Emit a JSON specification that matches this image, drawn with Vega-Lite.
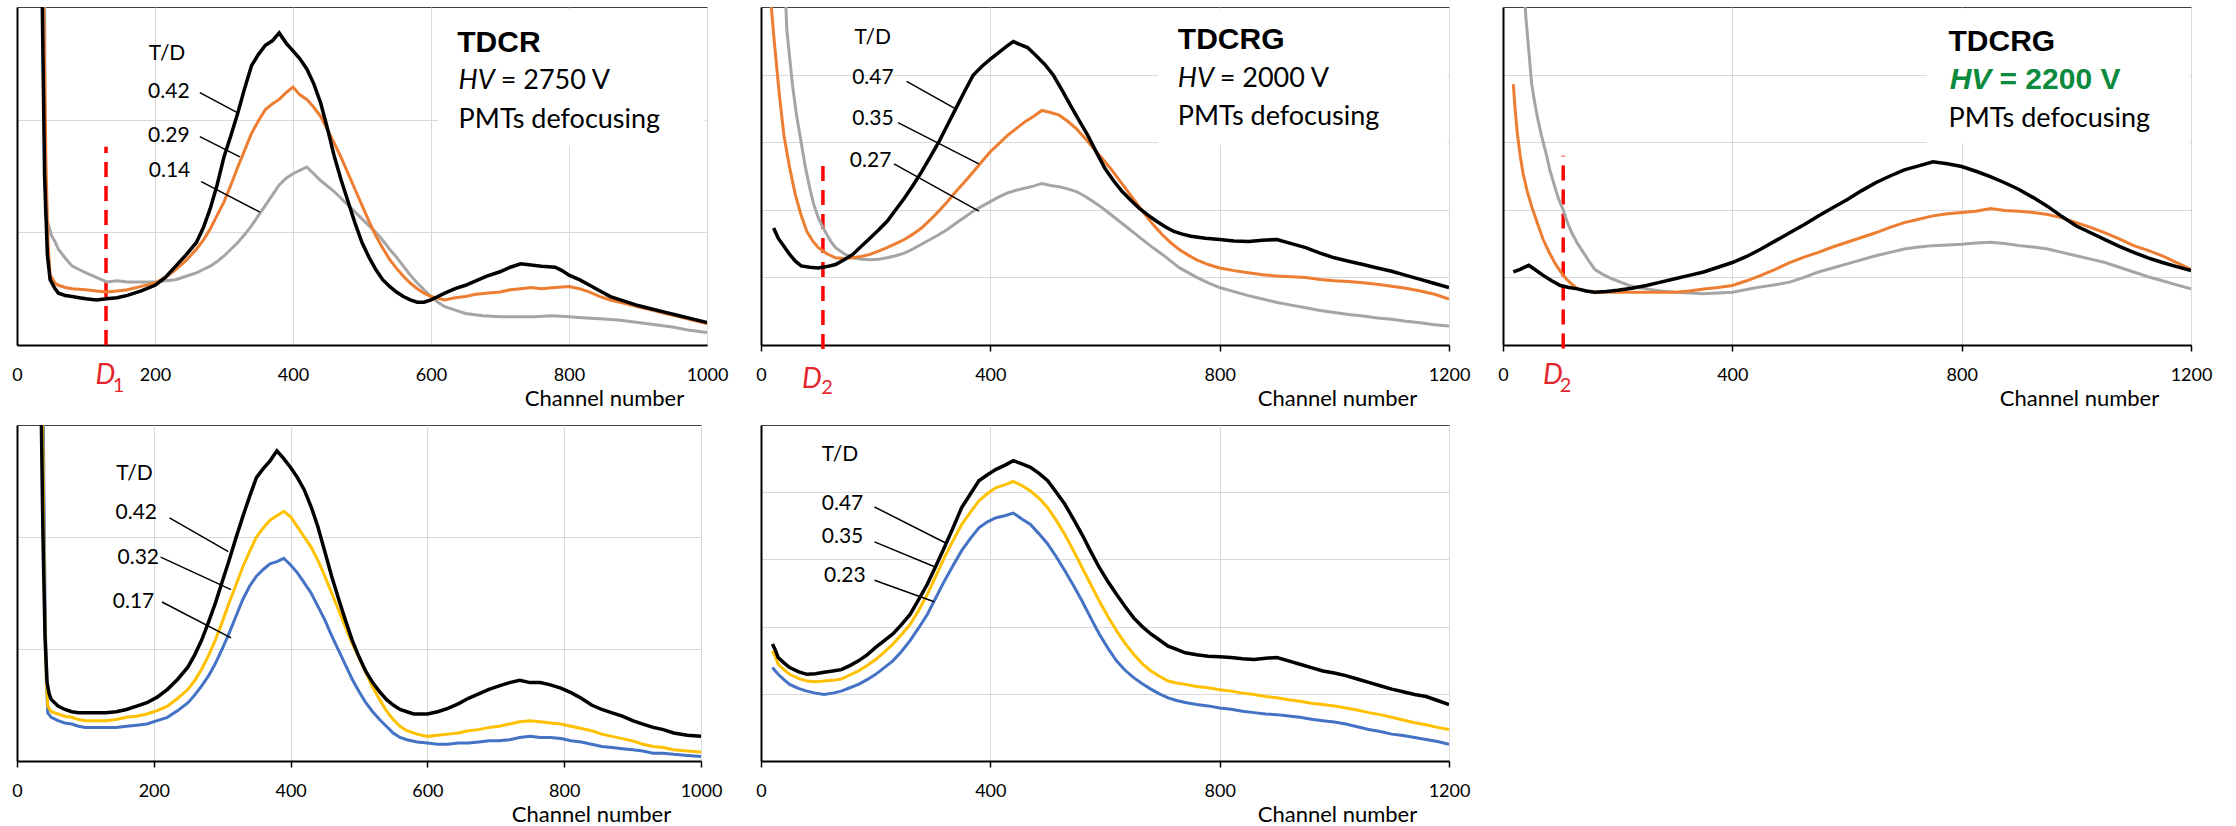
{
"$schema":"https://vega.github.io/schema/vega-lite/v6.json",
"background":"white",
"padding":{"left":11,"top":6,"right":5,"bottom":5},
"bounds":"flush",
"columns":3,
"spacing":{"row":80,"column":54},
"config":{
 "view":{"stroke":"#404040","strokeWidth":1},
 "font":"Lato",
 "axisX":{"grid":true,"gridColor":"#D9D9D9","gridWidth":1,"domainColor":"#000","domainWidth":2,"tickColor":"#000","tickSize":6,"tickWidth":1.5,"labelFont":"Lato","labelFontSize":18,"labelColor":"#000","labelPadding":15,"labelFlush":false,"labelOverlap":false,"format":"d","titleFont":"Lato","titleFontSize":22,"titleFontWeight":"normal","titleColor":"#000","titleBaseline":"alphabetic","titleY":60,"titleX":576},
 "axisY":{"grid":true,"gridColor":"#D9D9D9","gridWidth":1,"domainColor":"#000","domainWidth":2,"labels":false,"ticks":false}
},
"datasets":{
"a1":[{"x":36,"y":330},{"x":40,"y":150},{"x":44,"y":80},{"x":48,"y":58},{"x":55,"y":50},{"x":60,"y":46},{"x":70,"y":44},{"x":80,"y":43},{"x":90,"y":42},{"x":100,"y":41},{"x":115,"y":40},{"x":130,"y":41},{"x":145,"y":42},{"x":160,"y":44},{"x":180,"y":48},{"x":200,"y":53},{"x":215,"y":60},{"x":230,"y":70},{"x":245,"y":80},{"x":260,"y":91},{"x":270,"y":104},{"x":280,"y":121},{"x":290,"y":142},{"x":300,"y":167},{"x":310,"y":186},{"x":320,"y":206},{"x":330,"y":228},{"x":340,"y":248},{"x":350,"y":258},{"x":360,"y":266},{"x":370,"y":270},{"x":380,"y":277},{"x":390,"y":268},{"x":400,"y":261},{"x":410,"y":254},{"x":420,"y":245},{"x":430,"y":232},{"x":440,"y":215},{"x":450,"y":192},{"x":460,"y":167},{"x":470,"y":146},{"x":480,"y":127},{"x":490,"y":108},{"x":500,"y":91},{"x":510,"y":78},{"x":520,"y":67},{"x":530,"y":58},{"x":540,"y":52},{"x":550,"y":47},{"x":560,"y":43},{"x":570,"y":40},{"x":580,"y":38},{"x":590,"y":38},{"x":600,"y":40},{"x":610,"y":43},{"x":620,"y":46},{"x":635,"y":50},{"x":650,"y":53},{"x":665,"y":57},{"x":680,"y":61},{"x":700,"y":65},{"x":715,"y":69},{"x":730,"y":72},{"x":745,"y":71},{"x":760,"y":70},{"x":780,"y":69},{"x":790,"y":66},{"x":800,"y":62},{"x":815,"y":58},{"x":830,"y":53},{"x":845,"y":48},{"x":860,"y":43},{"x":880,"y":39},{"x":900,"y":35},{"x":920,"y":32},{"x":940,"y":29},{"x":960,"y":26},{"x":980,"y":23},{"x":1000,"y":20}],
"b1":[{"x":38,"y":330},{"x":42,"y":160},{"x":45,"y":90},{"x":48,"y":62},{"x":55,"y":55},{"x":60,"y":53},{"x":70,"y":51},{"x":80,"y":50},{"x":100,"y":49},{"x":115,"y":48},{"x":130,"y":47},{"x":145,"y":48},{"x":160,"y":49},{"x":180,"y":52},{"x":200,"y":55},{"x":215,"y":60},{"x":230,"y":67},{"x":245,"y":75},{"x":260,"y":85},{"x":270,"y":93},{"x":280,"y":103},{"x":290,"y":115},{"x":300,"y":127},{"x":310,"y":142},{"x":320,"y":158},{"x":330,"y":173},{"x":340,"y":188},{"x":350,"y":199},{"x":360,"y":209},{"x":370,"y":214},{"x":380,"y":218},{"x":390,"y":224},{"x":400,"y":229},{"x":410,"y":222},{"x":420,"y":218},{"x":430,"y":211},{"x":440,"y":203},{"x":450,"y":191},{"x":460,"y":179},{"x":470,"y":166},{"x":480,"y":152},{"x":490,"y":138},{"x":500,"y":124},{"x":510,"y":110},{"x":520,"y":97},{"x":530,"y":86},{"x":540,"y":76},{"x":550,"y":68},{"x":560,"y":61},{"x":570,"y":55},{"x":580,"y":50},{"x":590,"y":46},{"x":600,"y":43},{"x":620,"y":40},{"x":635,"y":42},{"x":650,"y":43},{"x":665,"y":45},{"x":680,"y":46},{"x":700,"y":47},{"x":715,"y":49},{"x":730,"y":50},{"x":745,"y":51},{"x":760,"y":50},{"x":780,"y":51},{"x":800,"y":52},{"x":815,"y":50},{"x":830,"y":47},{"x":845,"y":43},{"x":860,"y":40},{"x":880,"y":37},{"x":900,"y":34},{"x":920,"y":31},{"x":940,"y":28},{"x":960,"y":25},{"x":980,"y":22},{"x":1000,"y":19}],
"c1":[{"x":40,"y":330},{"x":41,"y":115},{"x":45,"y":108},{"x":50,"y":97},{"x":55,"y":92},{"x":60,"y":85},{"x":70,"y":77},{"x":80,"y":70},{"x":90,"y":67},{"x":100,"y":64},{"x":115,"y":60},{"x":130,"y":56},{"x":145,"y":57},{"x":160,"y":56},{"x":180,"y":56},{"x":200,"y":56},{"x":215,"y":57},{"x":230,"y":58},{"x":245,"y":61},{"x":260,"y":64},{"x":270,"y":67},{"x":280,"y":70},{"x":290,"y":74},{"x":300,"y":79},{"x":310,"y":85},{"x":320,"y":91},{"x":330,"y":98},{"x":340,"y":106},{"x":350,"y":115},{"x":360,"y":124},{"x":370,"y":133},{"x":380,"y":142},{"x":390,"y":148},{"x":400,"y":152},{"x":410,"y":155},{"x":420,"y":158},{"x":430,"y":152},{"x":440,"y":146},{"x":450,"y":141},{"x":460,"y":136},{"x":470,"y":130},{"x":480,"y":124},{"x":490,"y":118},{"x":500,"y":112},{"x":510,"y":106},{"x":520,"y":100},{"x":530,"y":93},{"x":540,"y":85},{"x":550,"y":78},{"x":560,"y":70},{"x":570,"y":62},{"x":580,"y":55},{"x":590,"y":49},{"x":600,"y":43},{"x":610,"y":38},{"x":620,"y":34},{"x":635,"y":31},{"x":650,"y":28},{"x":675,"y":26},{"x":700,"y":25},{"x":725,"y":25},{"x":750,"y":25},{"x":775,"y":26},{"x":800,"y":25},{"x":825,"y":24},{"x":850,"y":23},{"x":875,"y":22},{"x":900,"y":20},{"x":925,"y":18},{"x":950,"y":16},{"x":975,"y":13},{"x":1000,"y":11}],
"a2":[{"x":22,"y":173},{"x":30,"y":158},{"x":40,"y":146},{"x":50,"y":134},{"x":60,"y":124},{"x":70,"y":117},{"x":85,"y":115},{"x":100,"y":114},{"x":115,"y":116},{"x":130,"y":119},{"x":145,"y":126},{"x":160,"y":134},{"x":175,"y":146},{"x":190,"y":158},{"x":205,"y":170},{"x":220,"y":183},{"x":235,"y":200},{"x":250,"y":217},{"x":265,"y":236},{"x":280,"y":256},{"x":295,"y":278},{"x":310,"y":300},{"x":325,"y":325},{"x":340,"y":350},{"x":355,"y":375},{"x":370,"y":399},{"x":385,"y":412},{"x":400,"y":423},{"x":415,"y":433},{"x":430,"y":443},{"x":440,"y":449},{"x":450,"y":445},{"x":465,"y":440},{"x":480,"y":428},{"x":495,"y":415},{"x":510,"y":399},{"x":525,"y":377},{"x":540,"y":354},{"x":555,"y":332},{"x":570,"y":310},{"x":585,"y":285},{"x":600,"y":261},{"x":615,"y":243},{"x":630,"y":227},{"x":645,"y":214},{"x":660,"y":202},{"x":675,"y":192},{"x":690,"y":183},{"x":705,"y":175},{"x":720,"y":168},{"x":735,"y":164},{"x":750,"y":161},{"x":775,"y":158},{"x":800,"y":156},{"x":825,"y":154},{"x":850,"y":153},{"x":875,"y":155},{"x":900,"y":156},{"x":925,"y":150},{"x":950,"y":144},{"x":975,"y":136},{"x":1000,"y":129},{"x":1025,"y":124},{"x":1050,"y":119},{"x":1075,"y":114},{"x":1100,"y":109},{"x":1125,"y":103},{"x":1150,"y":97},{"x":1175,"y":91},{"x":1200,"y":85}],
"b2":[{"x":18,"y":500},{"x":22,"y":460},{"x":25,"y":433},{"x":32,"y":370},{"x":40,"y":310},{"x":50,"y":262},{"x":60,"y":222},{"x":70,"y":192},{"x":80,"y":168},{"x":90,"y":154},{"x":100,"y":144},{"x":115,"y":135},{"x":130,"y":129},{"x":145,"y":128},{"x":160,"y":129},{"x":175,"y":131},{"x":190,"y":134},{"x":205,"y":139},{"x":220,"y":144},{"x":235,"y":150},{"x":250,"y":156},{"x":265,"y":164},{"x":280,"y":173},{"x":295,"y":185},{"x":310,"y":198},{"x":325,"y":212},{"x":340,"y":227},{"x":355,"y":241},{"x":370,"y":256},{"x":385,"y":271},{"x":400,"y":286},{"x":415,"y":298},{"x":430,"y":310},{"x":445,"y":320},{"x":460,"y":330},{"x":475,"y":338},{"x":490,"y":347},{"x":505,"y":344},{"x":520,"y":340},{"x":535,"y":331},{"x":550,"y":320},{"x":565,"y":306},{"x":580,"y":291},{"x":595,"y":276},{"x":610,"y":261},{"x":625,"y":244},{"x":640,"y":227},{"x":655,"y":210},{"x":670,"y":193},{"x":685,"y":177},{"x":700,"y":163},{"x":715,"y":151},{"x":730,"y":141},{"x":745,"y":133},{"x":760,"y":126},{"x":780,"y":119},{"x":800,"y":114},{"x":825,"y":110},{"x":850,"y":107},{"x":875,"y":104},{"x":900,"y":102},{"x":925,"y":101},{"x":950,"y":100},{"x":975,"y":97},{"x":1000,"y":95},{"x":1025,"y":94},{"x":1050,"y":92},{"x":1075,"y":90},{"x":1100,"y":87},{"x":1125,"y":84},{"x":1150,"y":80},{"x":1175,"y":75},{"x":1200,"y":68}],
"c2":[{"x":43,"y":510},{"x":45,"y":467},{"x":50,"y":425},{"x":55,"y":384},{"x":62,"y":340},{"x":70,"y":300},{"x":77,"y":265},{"x":85,"y":232},{"x":92,"y":208},{"x":100,"y":188},{"x":108,"y":174},{"x":115,"y":163},{"x":122,"y":153},{"x":130,"y":144},{"x":145,"y":135},{"x":160,"y":129},{"x":175,"y":127},{"x":190,"y":126},{"x":205,"y":127},{"x":220,"y":129},{"x":235,"y":132},{"x":250,"y":136},{"x":265,"y":142},{"x":280,"y":149},{"x":295,"y":156},{"x":310,"y":163},{"x":325,"y":171},{"x":340,"y":180},{"x":355,"y":189},{"x":370,"y":198},{"x":385,"y":205},{"x":400,"y":212},{"x":415,"y":219},{"x":430,"y":225},{"x":445,"y":229},{"x":460,"y":232},{"x":475,"y":235},{"x":490,"y":239},{"x":505,"y":236},{"x":520,"y":234},{"x":535,"y":231},{"x":550,"y":227},{"x":565,"y":220},{"x":580,"y":212},{"x":595,"y":203},{"x":610,"y":193},{"x":625,"y":183},{"x":640,"y":173},{"x":655,"y":163},{"x":670,"y":153},{"x":685,"y":143},{"x":700,"y":134},{"x":715,"y":124},{"x":730,"y":114},{"x":745,"y":107},{"x":760,"y":100},{"x":780,"y":92},{"x":800,"y":85},{"x":825,"y":79},{"x":850,"y":73},{"x":875,"y":68},{"x":900,"y":63},{"x":925,"y":59},{"x":950,"y":55},{"x":975,"y":51},{"x":1000,"y":48},{"x":1025,"y":45},{"x":1050,"y":43},{"x":1075,"y":40},{"x":1100,"y":38},{"x":1125,"y":35},{"x":1150,"y":33},{"x":1175,"y":30},{"x":1200,"y":28}],
"a3":[{"x":18,"y":108},{"x":30,"y":112},{"x":45,"y":118},{"x":55,"y":112},{"x":70,"y":103},{"x":85,"y":95},{"x":100,"y":88},{"x":115,"y":85},{"x":130,"y":83},{"x":145,"y":80},{"x":160,"y":78},{"x":180,"y":79},{"x":200,"y":81},{"x":225,"y":84},{"x":250,"y":88},{"x":275,"y":93},{"x":300,"y":98},{"x":325,"y":103},{"x":350,"y":108},{"x":375,"y":115},{"x":400,"y":122},{"x":425,"y":131},{"x":450,"y":142},{"x":475,"y":154},{"x":500,"y":166},{"x":525,"y":178},{"x":550,"y":191},{"x":575,"y":203},{"x":600,"y":215},{"x":625,"y":228},{"x":650,"y":240},{"x":675,"y":250},{"x":700,"y":259},{"x":725,"y":265},{"x":750,"y":271},{"x":775,"y":268},{"x":800,"y":264},{"x":825,"y":257},{"x":850,"y":249},{"x":875,"y":240},{"x":900,"y":230},{"x":925,"y":218},{"x":950,"y":205},{"x":975,"y":190},{"x":1000,"y":176},{"x":1025,"y":166},{"x":1050,"y":156},{"x":1075,"y":146},{"x":1100,"y":137},{"x":1125,"y":129},{"x":1150,"y":122},{"x":1175,"y":116},{"x":1200,"y":110}],
"b3":[{"x":18,"y":386},{"x":21,"y":350},{"x":25,"y":313},{"x":30,"y":280},{"x":35,"y":254},{"x":42,"y":228},{"x":50,"y":205},{"x":60,"y":180},{"x":70,"y":156},{"x":80,"y":138},{"x":90,"y":122},{"x":100,"y":109},{"x":110,"y":98},{"x":120,"y":90},{"x":130,"y":83},{"x":145,"y":80},{"x":160,"y":78},{"x":180,"y":78},{"x":200,"y":78},{"x":225,"y":78},{"x":250,"y":78},{"x":275,"y":78},{"x":300,"y":78},{"x":325,"y":80},{"x":350,"y":83},{"x":375,"y":85},{"x":400,"y":88},{"x":425,"y":95},{"x":450,"y":103},{"x":475,"y":112},{"x":500,"y":122},{"x":525,"y":130},{"x":550,"y":137},{"x":575,"y":145},{"x":600,"y":152},{"x":625,"y":159},{"x":650,"y":166},{"x":675,"y":174},{"x":700,"y":181},{"x":725,"y":186},{"x":750,"y":191},{"x":775,"y":194},{"x":800,"y":196},{"x":825,"y":198},{"x":850,"y":202},{"x":875,"y":199},{"x":900,"y":198},{"x":925,"y":196},{"x":950,"y":193},{"x":975,"y":188},{"x":1000,"y":181},{"x":1025,"y":174},{"x":1050,"y":166},{"x":1075,"y":157},{"x":1100,"y":147},{"x":1125,"y":140},{"x":1150,"y":132},{"x":1175,"y":122},{"x":1200,"y":112}],
"c3":[{"x":38,"y":510},{"x":40,"y":484},{"x":45,"y":435},{"x":50,"y":386},{"x":55,"y":360},{"x":60,"y":337},{"x":67,"y":310},{"x":75,"y":284},{"x":82,"y":258},{"x":90,"y":235},{"x":97,"y":216},{"x":105,"y":200},{"x":112,"y":182},{"x":120,"y":166},{"x":130,"y":150},{"x":140,"y":137},{"x":150,"y":124},{"x":160,"y":112},{"x":175,"y":104},{"x":190,"y":98},{"x":205,"y":93},{"x":220,"y":88},{"x":235,"y":85},{"x":250,"y":83},{"x":275,"y":80},{"x":300,"y":78},{"x":325,"y":77},{"x":350,"y":76},{"x":375,"y":77},{"x":400,"y":78},{"x":425,"y":82},{"x":450,"y":86},{"x":475,"y":89},{"x":500,"y":93},{"x":525,"y":100},{"x":550,"y":108},{"x":575,"y":114},{"x":600,"y":120},{"x":625,"y":126},{"x":650,"y":132},{"x":675,"y":137},{"x":700,"y":142},{"x":725,"y":145},{"x":750,"y":147},{"x":775,"y":148},{"x":800,"y":149},{"x":825,"y":151},{"x":850,"y":152},{"x":875,"y":150},{"x":900,"y":147},{"x":925,"y":145},{"x":950,"y":142},{"x":975,"y":137},{"x":1000,"y":132},{"x":1025,"y":127},{"x":1050,"y":122},{"x":1075,"y":115},{"x":1100,"y":108},{"x":1125,"y":101},{"x":1150,"y":95},{"x":1175,"y":89},{"x":1200,"y":83}],
"a4":[{"x":35,"y":330},{"x":38,"y":200},{"x":41,"y":110},{"x":44,"y":70},{"x":47,"y":60},{"x":50,"y":55},{"x":60,"y":49},{"x":70,"y":46},{"x":80,"y":44},{"x":90,"y":43},{"x":100,"y":43},{"x":115,"y":43},{"x":130,"y":43},{"x":145,"y":44},{"x":160,"y":46},{"x":175,"y":49},{"x":190,"y":52},{"x":205,"y":57},{"x":220,"y":64},{"x":235,"y":73},{"x":250,"y":84},{"x":260,"y":95},{"x":270,"y":108},{"x":280,"y":124},{"x":290,"y":141},{"x":300,"y":160},{"x":310,"y":179},{"x":320,"y":199},{"x":330,"y":218},{"x":340,"y":236},{"x":350,"y":253},{"x":360,"y":261},{"x":370,"y":268},{"x":380,"y":277},{"x":390,"y":270},{"x":400,"y":262},{"x":410,"y":253},{"x":420,"y":242},{"x":430,"y":227},{"x":440,"y":209},{"x":450,"y":187},{"x":460,"y":165},{"x":470,"y":145},{"x":480,"y":126},{"x":490,"y":108},{"x":500,"y":93},{"x":510,"y":80},{"x":520,"y":70},{"x":530,"y":62},{"x":540,"y":55},{"x":550,"y":50},{"x":560,"y":46},{"x":570,"y":44},{"x":580,"y":42},{"x":590,"y":42},{"x":600,"y":42},{"x":615,"y":44},{"x":630,"y":47},{"x":645,"y":51},{"x":660,"y":56},{"x":675,"y":60},{"x":690,"y":64},{"x":705,"y":67},{"x":720,"y":70},{"x":735,"y":72},{"x":750,"y":70},{"x":765,"y":70},{"x":780,"y":68},{"x":795,"y":65},{"x":810,"y":61},{"x":825,"y":56},{"x":840,"y":50},{"x":855,"y":46},{"x":870,"y":43},{"x":885,"y":40},{"x":900,"y":36},{"x":915,"y":33},{"x":930,"y":30},{"x":945,"y":28},{"x":960,"y":25},{"x":980,"y":23},{"x":1000,"y":22}],
"b4":[{"x":37,"y":330},{"x":40,"y":150},{"x":43,"y":70},{"x":45,"y":49},{"x":50,"y":44},{"x":60,"y":42},{"x":70,"y":40},{"x":80,"y":39},{"x":90,"y":37},{"x":100,"y":36},{"x":115,"y":36},{"x":130,"y":36},{"x":145,"y":37},{"x":160,"y":39},{"x":175,"y":40},{"x":190,"y":42},{"x":205,"y":45},{"x":220,"y":49},{"x":235,"y":56},{"x":250,"y":64},{"x":260,"y":72},{"x":270,"y":82},{"x":280,"y":94},{"x":290,"y":108},{"x":300,"y":124},{"x":310,"y":141},{"x":320,"y":157},{"x":330,"y":173},{"x":340,"y":187},{"x":350,"y":200},{"x":360,"y":208},{"x":370,"y":215},{"x":380,"y":219},{"x":390,"y":223},{"x":400,"y":218},{"x":410,"y":209},{"x":420,"y":200},{"x":430,"y":191},{"x":440,"y":179},{"x":450,"y":165},{"x":460,"y":150},{"x":470,"y":135},{"x":480,"y":120},{"x":490,"y":105},{"x":500,"y":92},{"x":510,"y":79},{"x":520,"y":66},{"x":530,"y":55},{"x":540,"y":45},{"x":550,"y":37},{"x":560,"y":31},{"x":570,"y":27},{"x":585,"y":24},{"x":600,"y":22},{"x":615,"y":23},{"x":630,"y":24},{"x":645,"y":25},{"x":660,"y":27},{"x":675,"y":28},{"x":690,"y":30},{"x":705,"y":31},{"x":720,"y":33},{"x":735,"y":35},{"x":750,"y":36},{"x":765,"y":35},{"x":780,"y":34},{"x":795,"y":33},{"x":810,"y":31},{"x":825,"y":29},{"x":840,"y":27},{"x":855,"y":24},{"x":870,"y":22},{"x":885,"y":20},{"x":900,"y":18},{"x":915,"y":15},{"x":930,"y":13},{"x":945,"y":12},{"x":960,"y":10},{"x":980,"y":9},{"x":1000,"y":8}],
"c4":[{"x":38,"y":330},{"x":41,"y":140},{"x":43,"y":70},{"x":45,"y":43},{"x":50,"y":39},{"x":60,"y":36},{"x":70,"y":34},{"x":80,"y":33},{"x":90,"y":31},{"x":100,"y":30},{"x":115,"y":30},{"x":130,"y":30},{"x":145,"y":30},{"x":160,"y":31},{"x":175,"y":32},{"x":190,"y":33},{"x":205,"y":36},{"x":220,"y":39},{"x":235,"y":45},{"x":250,"y":52},{"x":260,"y":59},{"x":270,"y":67},{"x":280,"y":76},{"x":290,"y":87},{"x":300,"y":100},{"x":310,"y":114},{"x":320,"y":129},{"x":330,"y":144},{"x":340,"y":156},{"x":350,"y":165},{"x":360,"y":171},{"x":370,"y":176},{"x":380,"y":178},{"x":390,"y":181},{"x":400,"y":175},{"x":410,"y":168},{"x":420,"y":159},{"x":430,"y":150},{"x":440,"y":138},{"x":450,"y":126},{"x":460,"y":112},{"x":470,"y":99},{"x":480,"y":86},{"x":490,"y":73},{"x":500,"y":62},{"x":510,"y":52},{"x":520,"y":44},{"x":530,"y":37},{"x":540,"y":31},{"x":550,"y":25},{"x":560,"y":21},{"x":570,"y":19},{"x":585,"y":17},{"x":600,"y":16},{"x":615,"y":15},{"x":630,"y":15},{"x":645,"y":16},{"x":660,"y":16},{"x":675,"y":17},{"x":690,"y":18},{"x":705,"y":18},{"x":720,"y":19},{"x":735,"y":21},{"x":750,"y":22},{"x":765,"y":21},{"x":780,"y":21},{"x":795,"y":20},{"x":810,"y":18},{"x":825,"y":17},{"x":840,"y":15},{"x":855,"y":13},{"x":870,"y":12},{"x":885,"y":11},{"x":900,"y":10},{"x":915,"y":9},{"x":930,"y":7},{"x":945,"y":7},{"x":960,"y":6},{"x":980,"y":5},{"x":1000,"y":4}],
"a5":[{"x":20,"y":174},{"x":25,"y":165},{"x":30,"y":154},{"x":40,"y":146},{"x":50,"y":139},{"x":65,"y":133},{"x":80,"y":129},{"x":95,"y":130},{"x":110,"y":132},{"x":125,"y":134},{"x":140,"y":136},{"x":155,"y":142},{"x":170,"y":149},{"x":185,"y":158},{"x":200,"y":169},{"x":215,"y":179},{"x":230,"y":189},{"x":245,"y":203},{"x":260,"y":218},{"x":275,"y":240},{"x":290,"y":263},{"x":305,"y":290},{"x":320,"y":318},{"x":335,"y":347},{"x":350,"y":377},{"x":365,"y":397},{"x":380,"y":417},{"x":395,"y":426},{"x":410,"y":434},{"x":425,"y":440},{"x":440,"y":447},{"x":455,"y":442},{"x":470,"y":437},{"x":485,"y":428},{"x":500,"y":417},{"x":515,"y":400},{"x":530,"y":382},{"x":545,"y":360},{"x":560,"y":337},{"x":575,"y":312},{"x":590,"y":288},{"x":605,"y":267},{"x":620,"y":248},{"x":635,"y":230},{"x":650,"y":213},{"x":665,"y":200},{"x":680,"y":189},{"x":695,"y":180},{"x":710,"y":171},{"x":725,"y":166},{"x":740,"y":161},{"x":760,"y":158},{"x":780,"y":156},{"x":800,"y":155},{"x":820,"y":154},{"x":840,"y":152},{"x":860,"y":151},{"x":880,"y":153},{"x":900,"y":154},{"x":920,"y":149},{"x":940,"y":144},{"x":960,"y":139},{"x":980,"y":134},{"x":1000,"y":131},{"x":1020,"y":127},{"x":1040,"y":122},{"x":1060,"y":117},{"x":1080,"y":112},{"x":1100,"y":107},{"x":1120,"y":103},{"x":1140,"y":99},{"x":1160,"y":96},{"x":1180,"y":90},{"x":1200,"y":84}],
"b5":[{"x":20,"y":164},{"x":25,"y":155},{"x":30,"y":144},{"x":40,"y":136},{"x":50,"y":129},{"x":65,"y":123},{"x":80,"y":119},{"x":95,"y":118},{"x":110,"y":119},{"x":125,"y":120},{"x":140,"y":122},{"x":155,"y":128},{"x":170,"y":134},{"x":185,"y":142},{"x":200,"y":151},{"x":215,"y":162},{"x":230,"y":174},{"x":245,"y":188},{"x":260,"y":203},{"x":275,"y":224},{"x":290,"y":248},{"x":305,"y":275},{"x":320,"y":303},{"x":335,"y":328},{"x":350,"y":352},{"x":365,"y":370},{"x":380,"y":387},{"x":395,"y":398},{"x":410,"y":407},{"x":425,"y":411},{"x":440,"y":416},{"x":455,"y":410},{"x":470,"y":402},{"x":485,"y":391},{"x":500,"y":377},{"x":515,"y":358},{"x":530,"y":337},{"x":545,"y":313},{"x":560,"y":288},{"x":575,"y":263},{"x":590,"y":238},{"x":605,"y":215},{"x":620,"y":194},{"x":635,"y":175},{"x":650,"y":159},{"x":665,"y":145},{"x":680,"y":134},{"x":695,"y":126},{"x":710,"y":119},{"x":725,"y":116},{"x":740,"y":114},{"x":760,"y":111},{"x":780,"y":109},{"x":800,"y":106},{"x":820,"y":104},{"x":840,"y":101},{"x":860,"y":99},{"x":880,"y":96},{"x":900,"y":94},{"x":920,"y":91},{"x":940,"y":89},{"x":960,"y":86},{"x":980,"y":84},{"x":1000,"y":82},{"x":1020,"y":79},{"x":1040,"y":76},{"x":1060,"y":72},{"x":1080,"y":69},{"x":1100,"y":65},{"x":1120,"y":61},{"x":1140,"y":57},{"x":1160,"y":54},{"x":1180,"y":50},{"x":1200,"y":47}],
"c5":[{"x":20,"y":139},{"x":25,"y":134},{"x":30,"y":129},{"x":40,"y":121},{"x":50,"y":114},{"x":65,"y":108},{"x":80,"y":104},{"x":95,"y":101},{"x":110,"y":99},{"x":125,"y":101},{"x":140,"y":104},{"x":155,"y":109},{"x":170,"y":114},{"x":185,"y":121},{"x":200,"y":129},{"x":215,"y":139},{"x":230,"y":149},{"x":245,"y":163},{"x":260,"y":179},{"x":275,"y":198},{"x":290,"y":218},{"x":305,"y":243},{"x":320,"y":268},{"x":335,"y":291},{"x":350,"y":313},{"x":365,"y":331},{"x":380,"y":347},{"x":395,"y":356},{"x":410,"y":362},{"x":425,"y":365},{"x":440,"y":369},{"x":455,"y":360},{"x":470,"y":352},{"x":485,"y":338},{"x":500,"y":323},{"x":515,"y":304},{"x":530,"y":283},{"x":545,"y":261},{"x":560,"y":238},{"x":575,"y":213},{"x":590,"y":189},{"x":605,"y":168},{"x":620,"y":149},{"x":635,"y":135},{"x":650,"y":124},{"x":665,"y":115},{"x":680,"y":107},{"x":695,"y":100},{"x":710,"y":94},{"x":725,"y":90},{"x":740,"y":87},{"x":760,"y":84},{"x":780,"y":82},{"x":800,"y":79},{"x":820,"y":77},{"x":840,"y":74},{"x":860,"y":72},{"x":880,"y":70},{"x":900,"y":69},{"x":920,"y":67},{"x":940,"y":65},{"x":960,"y":62},{"x":980,"y":60},{"x":1000,"y":58},{"x":1020,"y":55},{"x":1040,"y":51},{"x":1060,"y":47},{"x":1080,"y":44},{"x":1100,"y":40},{"x":1120,"y":38},{"x":1140,"y":35},{"x":1160,"y":32},{"x":1180,"y":29},{"x":1200,"y":25}]
},
"concat":[
{
 "width":690,"height":338,
 "encoding":{
  "x":{"field":"x","type":"quantitative","scale":{"domain":[0,1000],"nice":false,"zero":false},"axis":{"values":[0,200,400,600,800,1000],"ticks":false,"labelPadding":21,"titleX":587},"title":"Channel number"},
  "y":{"field":"y","type":"quantitative","scale":{"domain":[0,300],"nice":false},"axis":{"values":[100,200]},"title":null}
 },
 "layer":[
  {"data":{"values":[{"x":610,"x2":997,"y":176,"y2":298}]},"mark":{"type":"rect","fill":"white"},"encoding":{"x2":{"field":"x2"},"y2":{"field":"y2"}}},
  {"data":{"values":[{"x":129,"y":0,"y2":176}]},"mark":{"type":"rule","color":"#FF0000","strokeWidth":3.5,"strokeDash":[15,9]},"encoding":{"y2":{"field":"y2"}}},
  {"data":{"name":"c1"},"mark":{"type":"line","color":"#A5A5A5","strokeWidth":3,"clip":true}},
  {"data":{"name":"b1"},"mark":{"type":"line","color":"#ED7D31","strokeWidth":3,"clip":true}},
  {"data":{"name":"a1"},"mark":{"type":"line","color":"#000000","strokeWidth":3.5,"clip":true}},
  {"data":{"values":[{"x":265,"y":224,"x2":320,"y2":206},{"x":265,"y":185,"x2":323,"y2":167},{"x":267,"y":145,"x2":352,"y2":118}]},"mark":{"type":"rule","color":"#000","strokeWidth":1.5},"encoding":{"x2":{"field":"x2"},"y2":{"field":"y2"}}},
  {"data":{"values":[{"x":191,"y":253,"t":"T/D"},{"x":190,"y":219,"t":"0.42"},{"x":190,"y":180,"t":"0.29"},{"x":191,"y":149,"t":"0.14"}]},"mark":{"type":"text","align":"left","baseline":"alphabetic","font":"Lato","fontSize":21,"color":"#000"},"encoding":{"text":{"field":"t"}}},
  {"data":{"values":[{"x":638,"y":260,"t":"TDCR"}]},"mark":{"type":"text","align":"left","baseline":"alphabetic","font":"Liberation Sans","fontWeight":"bold","fontSize":30,"color":"#000"},"encoding":{"text":{"field":"t"}}},
  {"data":{"values":[{"x":640,"y":227,"t":"HV"}]},"mark":{"type":"text","align":"left","baseline":"alphabetic","font":"Lato","fontStyle":"italic","fontSize":27,"color":"#000"},"encoding":{"text":{"field":"t"}}},
  {"data":{"values":[{"x":701,"y":227,"t":"= 2750 V"},{"x":640,"y":193,"t":"PMTs defocusing"}]},"mark":{"type":"text","align":"left","baseline":"alphabetic","font":"Lato","fontSize":27,"color":"#000"},"encoding":{"text":{"field":"t"}}},
  {"data":{"values":[{"x":128,"y":-35,"t":"D"}]},"mark":{"type":"text","align":"center","baseline":"alphabetic","font":"Lato","fontStyle":"italic","fontSize":28,"color":"#E3262D"},"encoding":{"text":{"field":"t"}}},
  {"data":{"values":[{"x":147,"y":-42,"t":"1"}]},"mark":{"type":"text","align":"center","baseline":"alphabetic","font":"Lato","fontSize":20,"color":"#E3262D"},"encoding":{"text":{"field":"t"}}}
 ]
},
{
 "width":688,"height":338,
 "encoding":{
  "x":{"field":"x","type":"quantitative","scale":{"domain":[0,1200],"nice":false,"zero":false},"axis":{"values":[0,400,800,1200]},"title":"Channel number"},
  "y":{"field":"y","type":"quantitative","scale":{"domain":[0,500],"nice":false},"axis":{"values":[100,200,300,400]},"title":null}
 },
 "layer":[
  {"data":{"values":[{"x":693,"x2":1197,"y":296,"y2":497}]},"mark":{"type":"rect","fill":"white"},"encoding":{"x2":{"field":"x2"},"y2":{"field":"y2"}}},
  {"data":{"values":[{"x":108,"y":-6,"y2":278}]},"mark":{"type":"rule","color":"#FF0000","strokeWidth":3.5,"strokeDash":[15,9]},"encoding":{"y2":{"field":"y2"}}},
  {"data":{"name":"c2"},"mark":{"type":"line","color":"#A5A5A5","strokeWidth":3,"clip":true}},
  {"data":{"name":"b2"},"mark":{"type":"line","color":"#ED7D31","strokeWidth":3,"clip":true}},
  {"data":{"name":"a2"},"mark":{"type":"line","color":"#000000","strokeWidth":3.5,"clip":true}},
  {"data":{"values":[{"x":254,"y":390,"x2":338,"y2":350},{"x":239,"y":329,"x2":380,"y2":268},{"x":232,"y":268,"x2":380,"y2":198}]},"mark":{"type":"rule","color":"#000","strokeWidth":1.5},"encoding":{"x2":{"field":"x2"},"y2":{"field":"y2"}}},
  {"data":{"values":[{"x":163,"y":445,"t":"T/D"},{"x":159,"y":386,"t":"0.47"},{"x":159,"y":325,"t":"0.35"},{"x":155,"y":264,"t":"0.27"}]},"mark":{"type":"text","align":"left","baseline":"alphabetic","font":"Lato","fontSize":21,"color":"#000"},"encoding":{"text":{"field":"t"}}},
  {"data":{"values":[{"x":727,"y":438,"t":"TDCRG"}]},"mark":{"type":"text","align":"left","baseline":"alphabetic","font":"Liberation Sans","fontWeight":"bold","fontSize":30,"color":"#000"},"encoding":{"text":{"field":"t"}}},
  {"data":{"values":[{"x":727,"y":381,"t":"HV"}]},"mark":{"type":"text","align":"left","baseline":"alphabetic","font":"Lato","fontStyle":"italic","fontSize":27,"color":"#000"},"encoding":{"text":{"field":"t"}}},
  {"data":{"values":[{"x":800,"y":381,"t":"= 2000 V"},{"x":727,"y":325,"t":"PMTs defocusing"}]},"mark":{"type":"text","align":"left","baseline":"alphabetic","font":"Lato","fontSize":27,"color":"#000"},"encoding":{"text":{"field":"t"}}},
  {"data":{"values":[{"x":89,"y":-63,"t":"D"}]},"mark":{"type":"text","align":"center","baseline":"alphabetic","font":"Lato","fontStyle":"italic","fontSize":28,"color":"#E3262D"},"encoding":{"text":{"field":"t"}}},
  {"data":{"values":[{"x":115,"y":-72,"t":"2"}]},"mark":{"type":"text","align":"center","baseline":"alphabetic","font":"Lato","fontSize":20,"color":"#E3262D"},"encoding":{"text":{"field":"t"}}}
 ]
},
{
 "width":688,"height":338,
 "encoding":{
  "x":{"field":"x","type":"quantitative","scale":{"domain":[0,1200],"nice":false,"zero":false},"axis":{"values":[0,400,800,1200]},"title":"Channel number"},
  "y":{"field":"y","type":"quantitative","scale":{"domain":[0,500],"nice":false},"axis":{"values":[100,200,300,400]},"title":null}
 },
 "layer":[
  {"data":{"values":[{"x":739,"x2":1197,"y":298,"y2":497}]},"mark":{"type":"rect","fill":"white"},"encoding":{"x2":{"field":"x2"},"y2":{"field":"y2"}}},
  {"data":{"values":[{"x":105,"y":-5,"y2":280}]},"mark":{"type":"rule","color":"#FF0000","strokeWidth":3.5,"strokeDash":[15,9]},"encoding":{"y2":{"field":"y2"}}},
  {"data":{"name":"c3"},"mark":{"type":"line","color":"#A5A5A5","strokeWidth":3,"clip":true}},
  {"data":{"name":"b3"},"mark":{"type":"line","color":"#ED7D31","strokeWidth":3,"clip":true}},
  {"data":{"name":"a3"},"mark":{"type":"line","color":"#000000","strokeWidth":3.5,"clip":true}},
  {"data":{"values":[{"x":777,"y":435,"t":"TDCRG"}]},"mark":{"type":"text","align":"left","baseline":"alphabetic","font":"Liberation Sans","fontWeight":"bold","fontSize":30,"color":"#000"},"encoding":{"text":{"field":"t"}}},
  {"data":{"values":[{"x":779,"y":378,"t":"HV"}]},"mark":{"type":"text","align":"left","baseline":"alphabetic","font":"Liberation Sans","fontWeight":"bold","fontStyle":"italic","fontSize":30,"color":"#0B8A3E"},"encoding":{"text":{"field":"t"}}},
  {"data":{"values":[{"x":866,"y":378,"t":"= 2200 V"}]},"mark":{"type":"text","align":"left","baseline":"alphabetic","font":"Liberation Sans","fontWeight":"bold","fontSize":30,"color":"#0B8A3E"},"encoding":{"text":{"field":"t"}}},
  {"data":{"values":[{"x":777,"y":323,"t":"PMTs  defocusing"}]},"mark":{"type":"text","align":"left","baseline":"alphabetic","font":"Lato","fontSize":27,"color":"#000"},"encoding":{"text":{"field":"t"}}},
  {"data":{"values":[{"x":87,"y":-58,"t":"D"}]},"mark":{"type":"text","align":"center","baseline":"alphabetic","font":"Lato","fontStyle":"italic","fontSize":28,"color":"#E3262D"},"encoding":{"text":{"field":"t"}}},
  {"data":{"values":[{"x":109,"y":-69,"t":"2"}]},"mark":{"type":"text","align":"center","baseline":"alphabetic","font":"Lato","fontSize":20,"color":"#E3262D"},"encoding":{"text":{"field":"t"}}}
 ]
},
{
 "width":684,"height":336,
 "encoding":{
  "x":{"field":"x","type":"quantitative","scale":{"domain":[0,1000],"nice":false,"zero":false},"axis":{"values":[0,200,400,600,800,1000],"titleX":574},"title":"Channel number"},
  "y":{"field":"y","type":"quantitative","scale":{"domain":[0,300],"nice":false},"axis":{"values":[100,200]},"title":null}
 },
 "layer":[
  {"data":{"name":"c4"},"mark":{"type":"line","color":"#4472C4","strokeWidth":3,"clip":true}},
  {"data":{"name":"b4"},"mark":{"type":"line","color":"#FFC000","strokeWidth":3,"clip":true}},
  {"data":{"name":"a4"},"mark":{"type":"line","color":"#000000","strokeWidth":3.5,"clip":true}},
  {"data":{"values":[{"x":223,"y":217,"x2":309,"y2":187},{"x":210,"y":182,"x2":313,"y2":153},{"x":212,"y":142,"x2":313,"y2":110}]},"mark":{"type":"rule","color":"#000","strokeWidth":1.5},"encoding":{"x2":{"field":"x2"},"y2":{"field":"y2"}}},
  {"data":{"values":[{"x":145,"y":251,"t":"T/D"},{"x":144,"y":216,"t":"0.42"},{"x":147,"y":176,"t":"0.32"},{"x":140,"y":137,"t":"0.17"}]},"mark":{"type":"text","align":"left","baseline":"alphabetic","font":"Lato","fontSize":21,"color":"#000"},"encoding":{"text":{"field":"t"}}}
 ]
},
{
 "width":688,"height":336,
 "encoding":{
  "x":{"field":"x","type":"quantitative","scale":{"domain":[0,1200],"nice":false,"zero":false},"axis":{"values":[0,400,800,1200]},"title":"Channel number"},
  "y":{"field":"y","type":"quantitative","scale":{"domain":[0,500],"nice":false},"axis":{"values":[100,200,300,400]},"title":null}
 },
 "layer":[
  {"data":{"name":"c5"},"mark":{"type":"line","color":"#4472C4","strokeWidth":3,"clip":true}},
  {"data":{"name":"b5"},"mark":{"type":"line","color":"#FFC000","strokeWidth":3,"clip":true}},
  {"data":{"name":"a5"},"mark":{"type":"line","color":"#000000","strokeWidth":3.5,"clip":true}},
  {"data":{"values":[{"x":198,"y":378,"x2":323,"y2":324},{"x":198,"y":326,"x2":306,"y2":288},{"x":198,"y":269,"x2":302,"y2":237}]},"mark":{"type":"rule","color":"#000","strokeWidth":1.5},"encoding":{"x2":{"field":"x2"},"y2":{"field":"y2"}}},
  {"data":{"values":[{"x":106,"y":446,"t":"T/D"},{"x":106,"y":373,"t":"0.47"},{"x":106,"y":324,"t":"0.35"},{"x":110,"y":267,"t":"0.23"}]},"mark":{"type":"text","align":"left","baseline":"alphabetic","font":"Lato","fontSize":21,"color":"#000"},"encoding":{"text":{"field":"t"}}}
 ]
}
]
}
